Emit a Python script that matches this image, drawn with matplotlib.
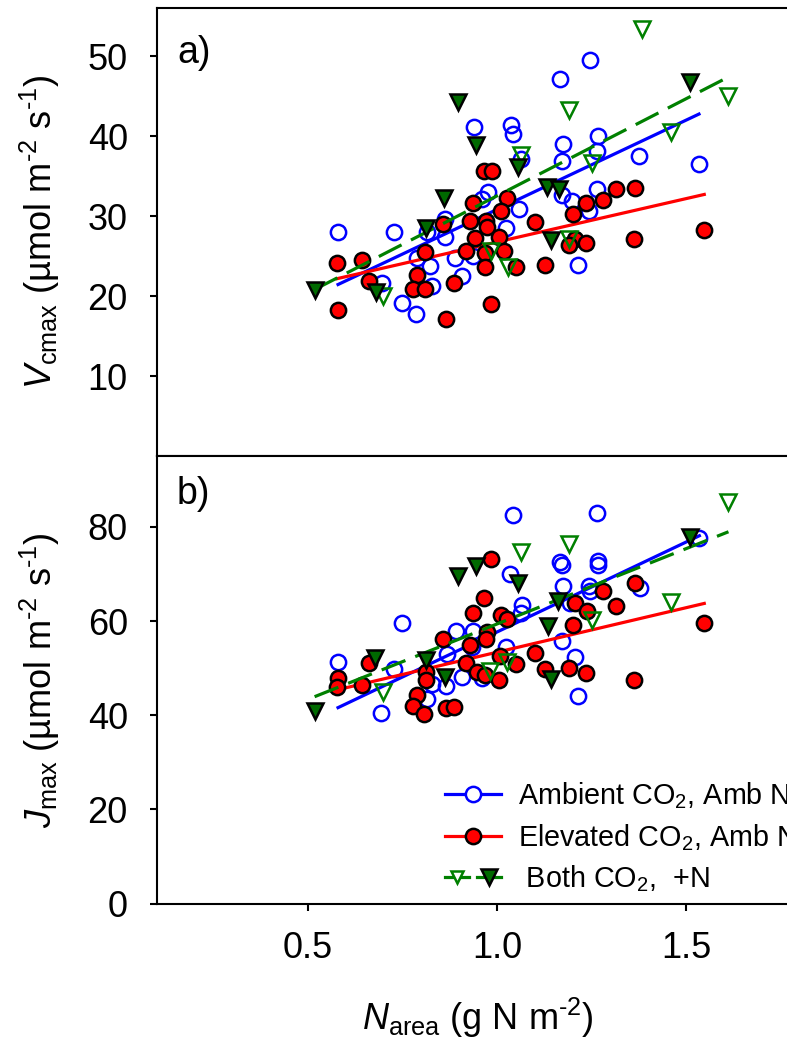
import numpy as np
import matplotlib
matplotlib.use("Agg")
import matplotlib.pyplot as plt
from matplotlib.lines import Line2D
from matplotlib.legend_handler import HandlerTuple

plt.rcParams['font.family'] = ['Liberation Sans', 'DejaVu Sans']
plt.rcParams['mathtext.fontset'] = 'custom'
plt.rcParams['mathtext.rm'] = 'Liberation Sans'
plt.rcParams['mathtext.it'] = 'Liberation Sans:italic'
plt.rcParams['mathtext.bf'] = 'Liberation Sans:bold'
plt.rcParams['axes.unicode_minus'] = False

# ---- Vcmax vs Narea ----
vc_amb_x = [1.246, 1.165, 0.940, 1.036, 1.043, 1.174, 1.268, 1.265, 1.063, 1.171,
            1.376, 1.534, 1.264, 1.171, 1.198, 1.242, 0.977, 0.960, 1.059, 0.862,
            0.814, 0.862, 1.024, 0.579, 0.726, 0.788, 0.823, 0.889, 0.936, 0.907,
            0.827, 0.695, 0.748, 0.786, 1.215]
vc_amb_y = [49.5, 47.2, 41.2, 41.4, 40.3, 39.0, 40.0, 38.2, 37.2, 36.9,
            37.5, 36.5, 33.4, 32.6, 31.9, 30.7, 33.0, 32.2, 30.9, 29.6,
            28.0, 27.4, 28.5, 28.0, 28.0, 24.8, 23.8, 24.8, 25.0, 22.5,
            21.3, 21.6, 19.2, 17.8, 23.9]

vc_elev_x = [0.966, 0.986, 0.936, 1.026, 1.010, 0.858, 0.929, 0.971, 0.974, 0.942,
             1.004, 0.810, 0.917, 0.968, 1.019, 0.968, 1.049, 1.101, 1.127, 1.200,
             1.235, 1.280, 1.315, 1.365, 1.206, 1.189, 1.235, 1.361, 1.548, 0.576,
             0.642, 0.660, 0.788, 0.777, 0.810, 0.885, 0.579, 0.864, 0.984]
vc_elev_y = [35.6, 35.7, 31.7, 32.3, 30.6, 29.0, 29.4, 29.4, 28.7, 27.3,
             27.4, 25.5, 25.6, 25.4, 25.6, 23.6, 23.7, 29.3, 23.9, 30.3,
             31.7, 32.0, 33.4, 33.5, 27.2, 26.4, 26.7, 27.1, 28.3, 24.1,
             24.5, 21.9, 22.6, 20.9, 20.9, 21.6, 18.3, 17.2, 19.0]

vc_addn_amb_x = [1.383, 1.612, 1.189, 1.460, 1.252, 1.063, 1.191, 0.983, 1.028, 0.699]
vc_addn_amb_y = [53.4, 45.0, 43.3, 40.5, 36.6, 37.6, 27.2, 25.7, 23.6, 20.0]
vc_addn_elev_x = [0.896, 0.944, 1.509, 1.056, 1.131, 1.164, 0.860, 0.812, 1.142, 0.517, 0.679]
vc_addn_elev_y = [44.3, 38.9, 46.8, 36.2, 33.7, 33.4, 32.3, 28.5, 27.0, 20.8, 20.5]

# regression fits: slope, intercept
vc_amb_fit = [22.3, 8.56]
vc_elev_fit = [10.83, 15.96]
vc_addn_fit = [24.25, 8.31]

# ---- Jmax vs Narea ----
jm_amb_x = [1.043, 1.265, 1.167, 1.171, 1.268, 1.268, 1.535, 1.034, 1.174, 1.242,
            1.246, 1.377, 1.065, 1.063, 1.193, 0.748, 0.892, 0.936, 0.867, 0.933,
            1.024, 1.171, 1.206, 0.579, 0.726, 0.864, 0.907, 0.827, 0.814, 0.960,
            1.215, 0.692]
jm_amb_y = [82.6, 82.9, 72.5, 72.0, 72.8, 71.9, 77.7, 70.0, 67.5, 67.5,
            66.4, 67.1, 63.5, 61.7, 63.8, 59.5, 57.9, 57.9, 53.0, 54.4,
            54.6, 55.8, 52.3, 51.4, 49.9, 46.2, 48.2, 46.6, 43.4, 48.0,
            44.0, 40.4]

jm_elev_x = [0.984, 0.966, 0.936, 1.011, 1.026, 0.858, 0.973, 0.971, 0.929, 1.008,
             0.917, 0.946, 0.968, 1.004, 1.049, 1.101, 1.127, 1.189, 1.235, 1.361,
             1.548, 1.200, 1.206, 1.237, 1.280, 1.315, 1.365, 0.660, 0.579, 0.576,
             0.642, 0.811, 0.811, 0.788, 0.777, 0.807, 0.864, 0.885]
jm_elev_y = [73.3, 64.9, 61.8, 61.3, 60.4, 56.3, 57.6, 56.2, 55.0, 52.6,
             51.0, 49.1, 48.5, 47.5, 50.9, 53.3, 49.9, 50.1, 48.9, 47.4,
             59.7, 59.2, 63.8, 62.2, 66.4, 63.3, 68.0, 51.1, 47.9, 45.9,
             46.4, 49.1, 47.5, 44.3, 42.0, 40.3, 41.6, 41.8]

jm_addn_amb_x = [1.612, 1.189, 1.063, 1.460, 1.251, 1.026, 0.981, 0.699]
jm_addn_amb_y = [85.2, 76.4, 74.6, 64.0, 60.3, 51.4, 49.3, 45.0]
jm_addn_elev_x = [1.509, 0.944, 0.896, 1.056, 1.162, 1.134, 0.677, 0.811, 0.861, 1.142, 0.517]
jm_addn_elev_y = [77.8, 71.8, 69.5, 68.2, 64.3, 59.0, 52.1, 51.7, 48.2, 47.7, 40.9]

jm_amb_fit = [38.2, 19.5]
jm_elev_fit = [18.9, 34.5]
jm_addn_fit = [32.0, 27.4]

BLUE = '#0000ff'
RED = '#ff0000'
GREEN = '#008000'
DKGREEN = '#006a00'
MS = 11
MEW = 1.8
LW = 2.3
DASH = (0, (8, 3.3))
HY = '\u2010'  # short hyphen for the unit exponents


def fit_line(ax, xs, fit, **kw):
    xx = np.array([min(xs), max(xs)])
    ax.plot(xx, fit[0] * xx + fit[1], **kw)


def draw_panel(ax, amb, elev, addn_amb, addn_elev, fits):
    ax.plot(amb[0], amb[1], ls='none', marker='o', ms=MS, mfc='none',
            mec=BLUE, mew=MEW, zorder=2)
    fit_line(ax, amb[0], fits[0], color=BLUE, lw=LW, zorder=3)
    fit_line(ax, elev[0], fits[1], color=RED, lw=LW, zorder=3)
    ax.plot(elev[0], elev[1], ls='none', marker='o', ms=MS, mfc=RED,
            mec='black', mew=MEW, zorder=4)
    fit_line(ax, list(addn_amb[0]) + list(addn_elev[0]), fits[2],
             color=GREEN, lw=LW, ls=DASH, zorder=5)
    ax.plot(addn_amb[0], addn_amb[1], ls='none', marker='v', ms=MS + 1,
            mfc='none', mec=GREEN, mew=MEW, zorder=6)
    ax.plot(addn_elev[0], addn_elev[1], ls='none', marker='v', ms=MS + 1,
            mfc=DKGREEN, mec='black', mew=MEW, zorder=6)

    ax.set_xlim(0.1, 1.8)
    for s in ax.spines.values():
        s.set_linewidth(1.5)
    ax.tick_params(direction='out', length=5, width=1.5, labelsize=26,
                   right=False, top=False)
    ax.tick_params(axis='y', pad=16)
    ax.tick_params(axis='x', pad=15)


fig = plt.figure(figsize=(7.87, 10.46), dpi=100)
ax1 = fig.add_axes([0.1995, 0.5637, 0.8164, 0.4285])
ax2 = fig.add_axes([0.1995, 0.1362, 0.8164, 0.4275])

draw_panel(ax1, (vc_amb_x, vc_amb_y), (vc_elev_x, vc_elev_y),
           (vc_addn_amb_x, vc_addn_amb_y), (vc_addn_elev_x, vc_addn_elev_y),
           (vc_amb_fit, vc_elev_fit, vc_addn_fit))
draw_panel(ax2, (jm_amb_x, jm_amb_y), (jm_elev_x, jm_elev_y),
           (jm_addn_amb_x, jm_addn_amb_y), (jm_addn_elev_x, jm_addn_elev_y),
           (jm_amb_fit, jm_elev_fit, jm_addn_fit))

ax1.set_ylim(0, 56)
ax1.set_yticks([10, 20, 30, 40, 50])
ax1.set_xticks([])
ax2.set_ylim(0, 95)
ax2.set_yticks([0, 20, 40, 60, 80])
ax2.set_xticks([0.5, 1.0, 1.5])
ax2.set_xticklabels(['0.5', '1.0', '1.5'])

unit = ' (µmol m$^{\\mathrm{' + HY + '2}}$ s$^{\\mathrm{' + HY + '1}}$)'
ax1.set_ylabel(r'$V_{\mathrm{cmax}}$' + unit, fontsize=26)
ax2.set_ylabel(r'$J_{\mathrm{max}}$' + unit, fontsize=26)
ax1.yaxis.set_label_coords(-0.148, 0.5)
ax2.yaxis.set_label_coords(-0.148, 0.5)
ax2.set_xlabel(r'$N_{\mathrm{area}}$ (g N m$^{\mathrm{' + HY + '2}}$)',
               fontsize=26, labelpad=21)

fig.text(177 / 787, 1 - 63 / 1046, 'a)', fontsize=27, va='baseline')
fig.text(177 / 787, 1 - 504 / 1046, 'b)', fontsize=27, va='baseline')

h_amb = Line2D([], [], color=BLUE, lw=LW, marker='o', ms=MS, mfc='white',
               mec=BLUE, mew=MEW)
h_elev = Line2D([], [], color=RED, lw=LW, marker='o', ms=MS, mfc=RED,
                mec='black', mew=MEW)
h_n_open = Line2D([], [], color=GREEN, lw=LW, marker='v', ms=MS - 2,
                  mfc='white', mec=GREEN, mew=MEW)
h_n_fill = Line2D([], [], color=GREEN, lw=LW, marker='v', ms=MS + 1,
                  mfc=DKGREEN, mec='black', mew=MEW)
fig.legend([h_amb, h_elev, (h_n_open, h_n_fill)],
           ['Ambient CO$_2$, Amb N', 'Elevated CO$_2$, Amb N', ' Both CO$_2$,  +N'],
           handler_map={tuple: HandlerTuple(ndivide=None, pad=0.3)},
           loc='upper left', bbox_to_anchor=(445 / 787, 1 - 780 / 1046),
           frameon=False, fontsize=20.7, handlelength=1.95, handletextpad=0.6,
           labelspacing=0.38, borderpad=0, borderaxespad=0)

fig.savefig('out.png', dpi=100)
